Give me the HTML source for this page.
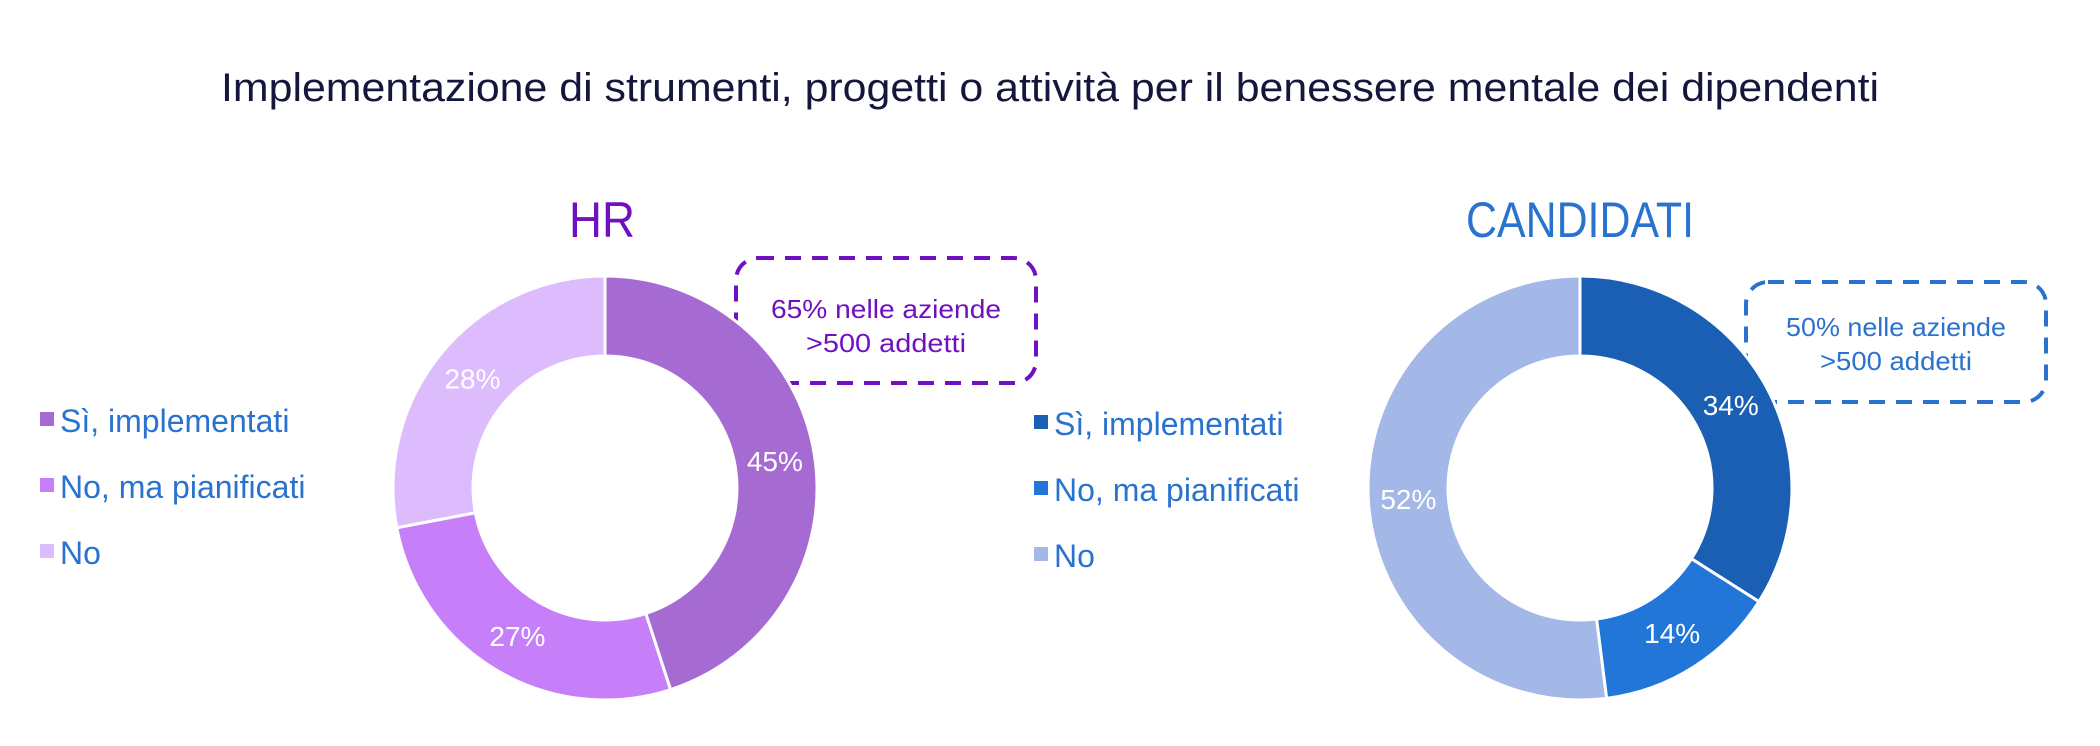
<!DOCTYPE html>
<html><head><meta charset="utf-8"><style>
html,body{margin:0;padding:0;background:#fff;}
svg{display:block;font-family:"Liberation Sans",sans-serif;}
</style></head><body>
<svg id="chart" width="2100" height="746" viewBox="0 0 2100 746" xmlns="http://www.w3.org/2000/svg">
<text x="1050" y="101" text-anchor="middle" font-size="40" fill="#14163c" textLength="1658" lengthAdjust="spacingAndGlyphs">Implementazione di strumenti, progetti o attività per il benessere mentale dei dipendenti</text>
<text x="602" y="237" text-anchor="middle" font-size="50" fill="#7010c0" textLength="66" lengthAdjust="spacingAndGlyphs">HR</text>
<text x="1580" y="237" text-anchor="middle" font-size="50" fill="#2a72cf" textLength="228" lengthAdjust="spacingAndGlyphs">CANDIDATI</text>
<g>
<rect x="736" y="258" width="300" height="125" rx="22" fill="none" stroke="#7010c0" stroke-width="4" stroke-dasharray="16 11"/>
<text x="886" y="318" text-anchor="middle" font-size="26" fill="#7010c0" textLength="230" lengthAdjust="spacingAndGlyphs">65% nelle aziende</text>
<text x="886" y="352" text-anchor="middle" font-size="26" fill="#7010c0" textLength="160" lengthAdjust="spacingAndGlyphs">&gt;500 addetti</text>
</g>
<g>
<rect x="1746" y="282" width="300" height="120" rx="22" fill="none" stroke="#2a72cf" stroke-width="4" stroke-dasharray="16 11"/>
<text x="1896" y="336" text-anchor="middle" font-size="26" fill="#2a72cf" textLength="220" lengthAdjust="spacingAndGlyphs">50% nelle aziende</text>
<text x="1896" y="370" text-anchor="middle" font-size="26" fill="#2a72cf" textLength="152" lengthAdjust="spacingAndGlyphs">&gt;500 addetti</text>
</g>
<g id="donuts"></g>
</svg>
<script>
const categories = ["Sì, implementati", "No, ma pianificati", "No"];
const hrValues = [45, 27, 28];
const candidatiValues = [34, 14, 52];
const hrColors = ["#a66bd3", "#c77ef9", "#dcbcfd"];
const candColors = ["#1a5fb4", "#2176d8", "#a3b8e6"];

const NS = "http://www.w3.org/2000/svg";
const root = document.getElementById("donuts");

function pt(cx, cy, r, a) { return [cx + r * Math.sin(a), cy - r * Math.cos(a)]; }

function drawDonut(name, values, colors, cx, cy, R, r, legendX, legendY) {
  const g = document.createElementNS(NS, "g");
  
  
  root.appendChild(g);
  const total = values.reduce((s, v) => s + v, 0);
  let a0 = 0;
  values.forEach((v, i) => {
    const a1 = a0 + v / total * Math.PI * 2;
    const large = (a1 - a0) > Math.PI ? 1 : 0;
    const p1 = pt(cx, cy, R, a0), p2 = pt(cx, cy, R, a1);
    const p3 = pt(cx, cy, r, a1), p4 = pt(cx, cy, r, a0);
    const path = document.createElementNS(NS, "path");
    path.setAttribute("d", `M${p1[0]},${p1[1]} A${R},${R} 0 ${large} 1 ${p2[0]},${p2[1]} L${p3[0]},${p3[1]} A${r},${r} 0 ${large} 0 ${p4[0]},${p4[1]} Z`);
    path.setAttribute("fill", colors[i]);
    path.setAttribute("stroke", "#fff");
    path.setAttribute("stroke-width", "3");
    
    
    g.appendChild(path);
    const am = (a0 + a1) / 2;
    const lp = pt(cx, cy, (R + r) / 2, am);
    const t = document.createElementNS(NS, "text");
    t.setAttribute("x", lp[0]);
    t.setAttribute("y", lp[1] + 10);
    t.setAttribute("text-anchor", "middle");
    t.setAttribute("font-size", "28");
    t.setAttribute("fill", "#fff");
    
    
    t.textContent = v + "%";
    g.appendChild(t);
    a0 = a1;
  });
  categories.forEach((c, i) => {
    const y = legendY + i * 66;
    const lg = document.createElementNS(NS, "g");
    
    
    const sq = document.createElementNS(NS, "rect");
    sq.setAttribute("x", legendX); sq.setAttribute("y", y - 8);
    sq.setAttribute("width", 14); sq.setAttribute("height", 14);
    sq.setAttribute("fill", colors[i]);
    lg.appendChild(sq);
    const t = document.createElementNS(NS, "text");
    t.setAttribute("x", legendX + 20); t.setAttribute("y", y + 12);
    t.setAttribute("font-size", "32"); t.setAttribute("fill", "#2a72cf");
    t.textContent = c;
    lg.appendChild(t);
    root.appendChild(lg);
  });
}
drawDonut("hr", hrValues, hrColors, 605, 488, 212, 132, 40, 420);
drawDonut("candidati", candidatiValues, candColors, 1580, 488, 212, 132, 1034, 423);
</script>
</body></html>
